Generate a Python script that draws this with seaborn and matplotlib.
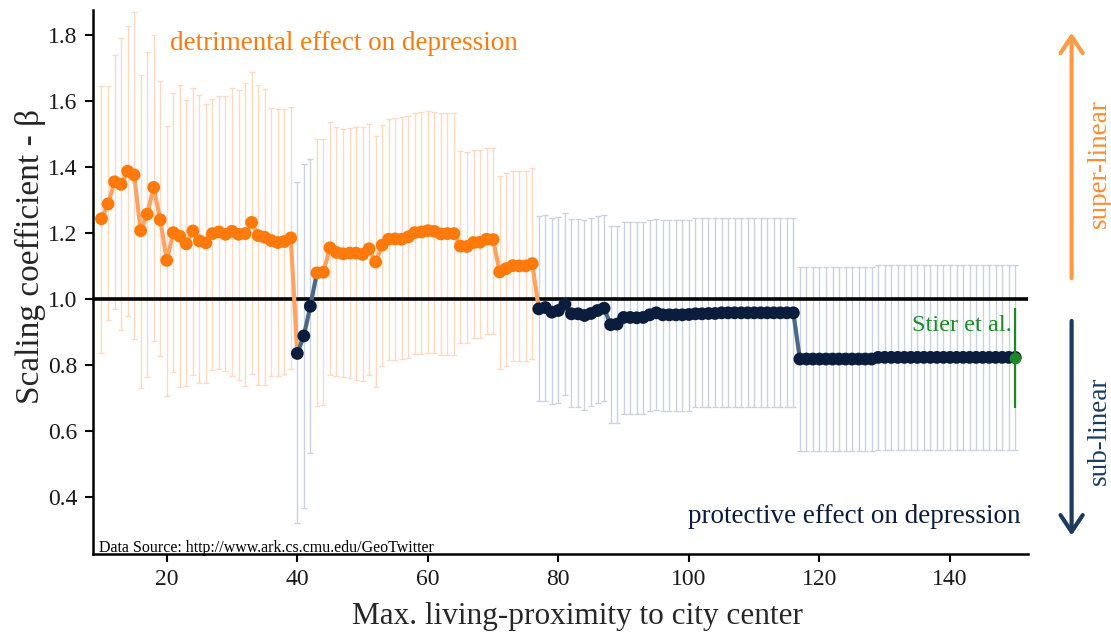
import numpy as np
import pandas as pd
import matplotlib
matplotlib.use("Agg")
import matplotlib.pyplot as plt
import matplotlib.transforms as mtransforms
import seaborn as sns

# --- Data ---
proximity = list(range(10, 151))

beta = [
    1.243, 1.288, 1.355, 1.347, 1.387, 1.376, 1.207, 1.257, 1.338, 1.240,  # 10-19
    1.117, 1.201, 1.190, 1.167, 1.206, 1.176, 1.170, 1.198, 1.203, 1.196,  # 20-29
    1.205, 1.196, 1.198, 1.232, 1.192, 1.187, 1.177, 1.171, 1.174, 1.185,  # 30-39
    0.835, 0.888, 0.978, 1.079, 1.081, 1.155, 1.141, 1.137, 1.139, 1.139,  # 40-49
    1.135, 1.152, 1.112, 1.163, 1.181, 1.182, 1.181, 1.188, 1.201, 1.203,  # 50-59
    1.207, 1.205, 1.197, 1.198, 1.198, 1.160, 1.159, 1.171, 1.172, 1.181,  # 60-69
    1.180, 1.082, 1.092, 1.101, 1.100, 1.100, 1.107, 0.970, 0.974, 0.960,  # 70-79
    0.965, 0.984, 0.955, 0.955, 0.950, 0.956, 0.965, 0.972, 0.922, 0.924,  # 80-89
    0.944, 0.944, 0.943, 0.944, 0.952, 0.958, 0.952, 0.952, 0.952, 0.952,  # 90-99
    0.953, 0.955, 0.955, 0.956, 0.956, 0.958, 0.958, 0.958, 0.958, 0.958,  # 100-109
    0.958, 0.958, 0.958, 0.958, 0.958, 0.958, 0.958, 0.818, 0.818, 0.818,  # 110-119
    0.818, 0.818, 0.818, 0.818, 0.818, 0.818, 0.818, 0.818, 0.818, 0.823,  # 120-129
    0.823, 0.823, 0.823, 0.823, 0.823, 0.823, 0.823, 0.823, 0.823, 0.823,  # 130-139
    0.823, 0.823, 0.823, 0.823, 0.823, 0.823, 0.823, 0.823, 0.823, 0.823,  # 140-149
    0.823,                                                                 # 150
]

beta_upper = [
    1.645, 1.645, 1.740, 1.790, 1.828, 1.868, 1.680, 1.748, 1.800, 1.660,
    1.525, 1.625, 1.647, 1.603, 1.640, 1.617, 1.590, 1.606, 1.616, 1.614,
    1.640, 1.634, 1.655, 1.688, 1.648, 1.637, 1.578, 1.577, 1.577, 1.581,
    1.353, 1.408, 1.424, 1.485, 1.486, 1.536, 1.521, 1.515, 1.518, 1.520,
    1.521, 1.530, 1.493, 1.528, 1.546, 1.549, 1.551, 1.554, 1.562, 1.566,
    1.569, 1.567, 1.563, 1.563, 1.563, 1.447, 1.446, 1.450, 1.450, 1.457,
    1.457, 1.373, 1.381, 1.389, 1.389, 1.389, 1.396, 1.250, 1.253, 1.244,
    1.247, 1.259, 1.241, 1.241, 1.239, 1.244, 1.251, 1.254, 1.221, 1.221,
    1.234, 1.234, 1.234, 1.234, 1.239, 1.241, 1.240, 1.240, 1.240, 1.240,
    1.240, 1.244, 1.244, 1.244, 1.244, 1.244, 1.244, 1.244, 1.244, 1.244,
    1.244, 1.244, 1.244, 1.244, 1.244, 1.244, 1.244, 1.097, 1.097, 1.097,
    1.097, 1.097, 1.097, 1.097, 1.097, 1.097, 1.097, 1.097, 1.097, 1.104,
    1.104, 1.104, 1.104, 1.104, 1.104, 1.104, 1.104, 1.104, 1.104, 1.104,
    1.104, 1.104, 1.104, 1.104, 1.104, 1.104, 1.104, 1.104, 1.104, 1.104,
    1.104,
]

beta_lower = [
    0.837, 0.937, 0.971, 0.905, 0.947, 0.879, 0.730, 0.764, 0.872, 0.827,
    0.706, 0.779, 0.733, 0.735, 0.770, 0.746, 0.746, 0.785, 0.788, 0.782,
    0.767, 0.756, 0.737, 0.772, 0.740, 0.740, 0.767, 0.767, 0.772, 0.788,
    0.320, 0.367, 0.533, 0.675, 0.680, 0.771, 0.766, 0.763, 0.761, 0.756,
    0.751, 0.771, 0.733, 0.797, 0.814, 0.814, 0.817, 0.822, 0.832, 0.834,
    0.837, 0.835, 0.830, 0.830, 0.831, 0.868, 0.866, 0.883, 0.883, 0.893,
    0.893, 0.787, 0.797, 0.811, 0.811, 0.811, 0.817, 0.690, 0.690, 0.682,
    0.685, 0.708, 0.672, 0.672, 0.665, 0.675, 0.685, 0.692, 0.624, 0.624,
    0.651, 0.651, 0.651, 0.651, 0.662, 0.664, 0.662, 0.662, 0.662, 0.662,
    0.662, 0.672, 0.672, 0.672, 0.672, 0.672, 0.672, 0.672, 0.672, 0.672,
    0.672, 0.672, 0.672, 0.672, 0.672, 0.672, 0.672, 0.540, 0.540, 0.540,
    0.540, 0.540, 0.540, 0.540, 0.540, 0.540, 0.540, 0.540, 0.540, 0.543,
    0.543, 0.543, 0.543, 0.543, 0.543, 0.543, 0.543, 0.543, 0.543, 0.543,
    0.543, 0.543, 0.543, 0.543, 0.543, 0.543, 0.543, 0.543, 0.543, 0.543,
    0.543,
]

# Stier et al. reference estimate
stier_x = 150
stier_beta = 0.822
stier_lower = 0.670
stier_upper = 0.973

# --- Colours ---
ORANGE = "#FF7A0A"
ORANGE_LINE = "#FFA362"
ORANGE_ERR = "#FFD9C2"
NAVY = "#0B1D3C"
NAVY_LINE = "#4C6887"
NAVY_ERR = "#C9D2DE"
GREEN = "#1B8A26"

sns.set_theme(style="ticks")
plt.rcParams["font.family"] = ["Liberation Serif", "DejaVu Serif"]

df = pd.DataFrame({"proximity": proximity, "beta": beta,
                   "upper": beta_upper, "lower": beta_lower})
df["effect"] = np.where(df["beta"] > 1.0, "super", "sub")

# segments coloured by their starting point
rows = []
for i in range(len(df) - 1):
    g = df["effect"].iloc[i]
    rows.append({"seg": i, "x": df["proximity"].iloc[i], "y": df["beta"].iloc[i], "effect": g})
    rows.append({"seg": i, "x": df["proximity"].iloc[i + 1], "y": df["beta"].iloc[i + 1], "effect": g})
seg_df = pd.DataFrame(rows)

fig, ax = plt.subplots(figsize=(11.11, 6.34), dpi=100)
fig.subplots_adjust(left=0.0837, right=0.925, bottom=0.126, top=0.984)

# error bars
for grp, col in [("super", ORANGE_ERR), ("sub", NAVY_ERR)]:
    sub = df[df["effect"] == grp]
    ax.errorbar(sub["proximity"], sub["beta"],
                yerr=[sub["beta"] - sub["lower"], sub["upper"] - sub["beta"]],
                fmt="none", ecolor=col, elinewidth=1.0, capsize=2.0, capthick=1.0, zorder=1)

ax.axhline(1.0, color="black", lw=2.6, zorder=2)

sns.lineplot(data=seg_df, x="x", y="y", hue="effect", units="seg", estimator=None,
             palette={"super": ORANGE_LINE, "sub": NAVY_LINE}, linewidth=3,
             solid_capstyle="round", legend=False, ax=ax, zorder=3)

sns.scatterplot(data=df, x="proximity", y="beta", hue="effect",
                palette={"super": ORANGE, "sub": NAVY}, s=85, linewidth=0,
                legend=False, ax=ax, zorder=4)

# Stier et al.
ax.vlines(stier_x, stier_lower, stier_upper, color=GREEN, lw=1.6, zorder=5)
ax.scatter([stier_x], [stier_beta], color=GREEN, s=70, zorder=6, linewidth=0)
ax.text(149.5, 0.92, "Stier et al.", color=GREEN, fontsize=17.5, ha="right", va="center")

ax.text(20.5, 1.775, "detrimental effect on depression", color=ORANGE,
        fontsize=19.5, ha="left", va="center")
ax.text(150.8, 0.34, "protective effect on depression", color=NAVY,
        fontsize=19.5, ha="right", va="center")
ax.text(9.6, 0.233, "Data Source: http://www.ark.cs.cmu.edu/GeoTwitter",
        color="black", fontsize=11.5, ha="left", va="baseline")

# right-hand arrows
trans = mtransforms.blended_transform_factory(ax.transAxes, ax.transData)
ax.annotate("", xy=(1.047, 1.815), xytext=(1.047, 1.055), xycoords=trans, textcoords=trans,
            arrowprops=dict(arrowstyle="->,head_length=0.6,head_width=0.4",
                            color="#FF9A45", lw=3, mutation_scale=20),
            annotation_clip=False)
ax.annotate("", xy=(1.047, 0.275), xytext=(1.047, 0.942), xycoords=trans, textcoords=trans,
            arrowprops=dict(arrowstyle="->,head_length=0.6,head_width=0.4",
                            color="#1C3B5E", lw=3, mutation_scale=20),
            annotation_clip=False)
ax.text(1.077, 1.41, "super-linear", transform=trans, rotation=90, color="#FF8C33",
        fontsize=19.5, ha="center", va="center")
ax.text(1.077, 0.600, "sub-linear", transform=trans, rotation=90, color="#1C3B5E",
        fontsize=19.5, ha="center", va="center")

ax.set_xlim(8.7, 151.9)
ax.set_ylim(0.227, 1.875)
ax.set_xticks([20, 40, 60, 80, 100, 120, 140])
ax.set_yticks([0.4, 0.6, 0.8, 1.0, 1.2, 1.4, 1.6, 1.8])
ax.set_yticklabels(["0.4", "0.6", "0.8", "1.0", "1.2", "1.4", "1.6", "1.8"])
ax.tick_params(axis="both", labelsize=17, length=6, width=1.5, pad=5,
               color="black", labelcolor="#1a1a1a")
for side in ["left", "bottom"]:
    ax.spines[side].set_linewidth(1.8)
    ax.spines[side].set_color("black")
sns.despine(ax=ax)

ax.set_xlabel("Max. living-proximity to city center", fontsize=22.5)
ax.set_ylabel("Scaling coefficient - β", fontsize=24)
ax.xaxis.set_label_coords(0.518, -0.088)
ax.yaxis.set_label_coords(-0.05, 0.548)

fig.savefig("out.png", dpi=100)
plt.close(fig)
